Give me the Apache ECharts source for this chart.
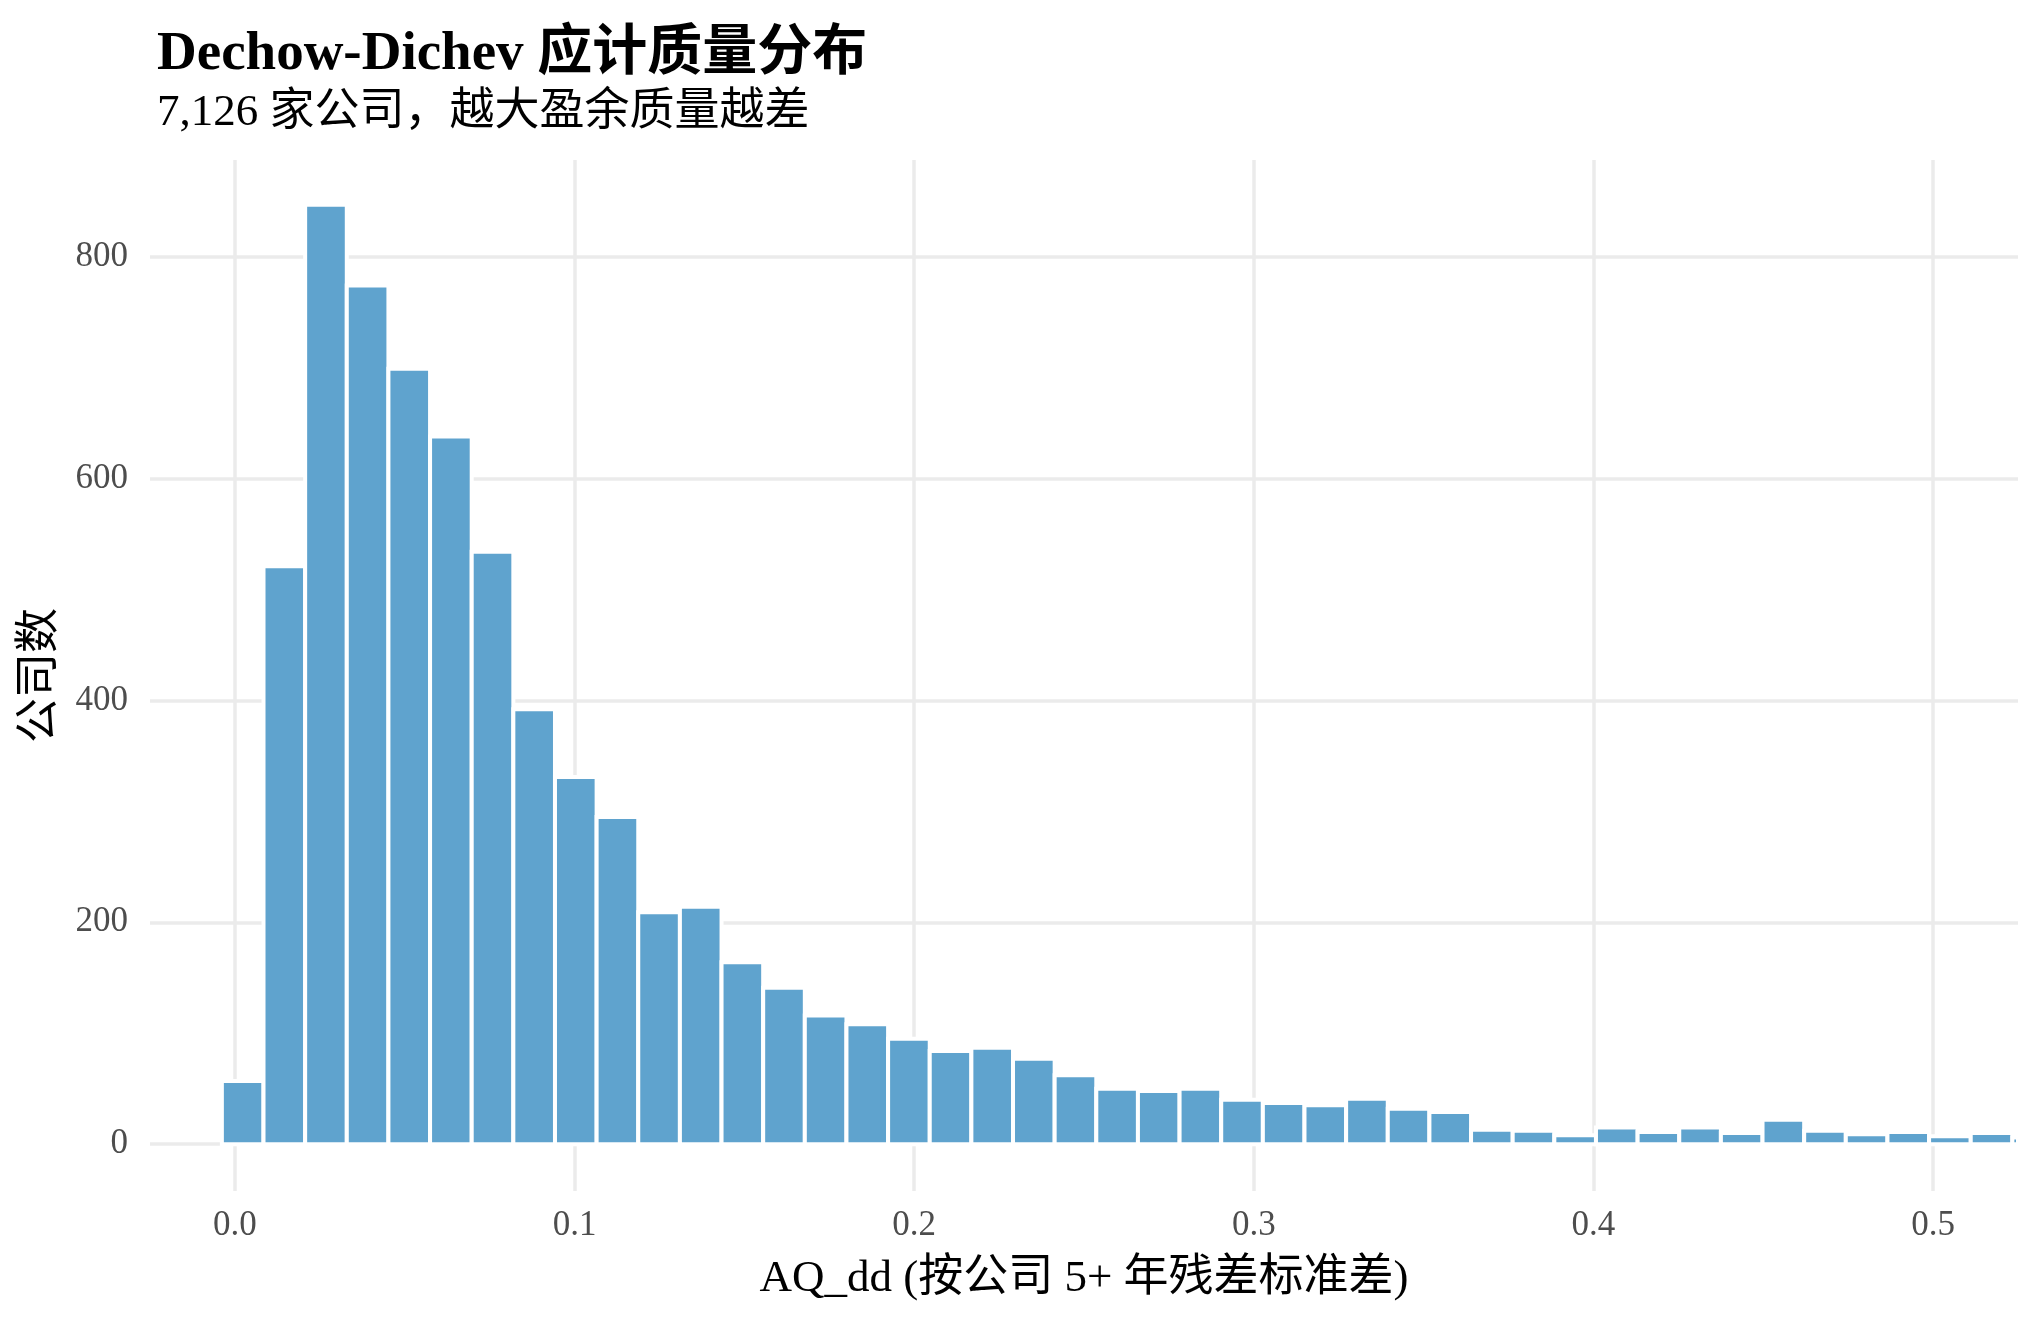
<!DOCTYPE html>
<html>
<head>
<meta charset="utf-8">
<title>Dechow-Dichev 应计质量分布</title>
<script src="https://cdn.jsdelivr.net/npm/echarts@6/dist/echarts.min.js"></script>
<style>
	html, body { margin: 0; padding: 0; background: #ffffff; }
	#chart { width: 2040px; height: 1320px; }
</style>
</head>
<body>
<div id="chart"></div>
<script>
// histogram bins: centre of the first bin and bin width
var binStart = 0.00229;
var binWidth = 0.01226;

// firms per bin, left to right
var counts = [57, 521, 847, 774, 699, 638, 534, 392, 331, 295,
	209, 214, 164, 141, 116, 108, 95, 84, 87, 77,
	62, 50, 48, 50, 40, 37, 35, 41, 32, 29,
	13, 12, 8, 15, 11, 15, 10, 22, 12, 9,
	11, 7, 10, 6];

var xTicks = [0, 0.1, 0.2, 0.3, 0.4, 0.5];
var yTicks = [0, 200, 400, 600, 800];

var serif = '"Liberation Serif", "Noto Sans CJK SC", serif';

function getChart(){
	var chart = echarts.init(document.getElementById('chart'));
	var data = counts.map(function (c, i) {
		return [binStart + i * binWidth, c];
	});
	var option = {
		backgroundColor: '#ffffff',
		animation: false,
		title: [
			{
				text: 'Dechow-Dichev 应计质量分布',
				left: 152,
				top: 22,
				textStyle: {
					color: '#000000',
					fontFamily: serif,
					fontSize: 55,
					fontWeight: 'bold'
				}
			},
			{
				text: '7,126 家公司，越大盈余质量越差',
				left: 152,
				top: 86,
				textStyle: {
					color: '#000000',
					fontFamily: serif,
					fontSize: 45,
					fontWeight: 'normal'
				}
			}
		],
		grid: {
			left: 150,
			right: 22,
			top: 160,
			bottom: 129,
			containLabel: false
		},
		xAxis: {
			type: 'value',
			min: -0.025,
			max: 0.525,
			name: 'AQ_dd (按公司 5+ 年残差标准差)',
			nameLocation: 'middle',
			nameGap: 66,
			nameTextStyle: {
				color: '#000000',
				fontFamily: serif,
				fontSize: 45
			},
			axisLine: { show: false },
			axisTick: { show: false, customValues: xTicks },
			axisLabel: {
				customValues: xTicks,
				margin: 17,
				color: '#4d4d4d',
				fontFamily: serif,
				fontSize: 35,
				formatter: function (v) { return v.toFixed(1); }
			},
			splitLine: {
				show: true,
				lineStyle: { color: '#ebebeb', width: 3.5 }
			}
		},
		yAxis: {
			type: 'value',
			min: -42.25,
			max: 887.25,
			name: '公司数',
			nameLocation: 'middle',
			nameGap: 86,
			nameRotate: 90,
			nameTextStyle: {
				color: '#000000',
				fontFamily: serif,
				fontSize: 45
			},
			axisLine: { show: false },
			axisTick: { show: false, customValues: yTicks },
			axisLabel: {
				customValues: yTicks,
				margin: 22,
				color: '#4d4d4d',
				fontFamily: serif,
				fontSize: 35
			},
			splitLine: {
				show: true,
				lineStyle: { color: '#ebebeb', width: 3.5 }
			}
		},
		series: [
			{
				name: 'AQ_dd',
				type: 'custom',
				data: data,
				renderItem: function (params, api) {
					var x = api.value(0);
					var y = api.value(1);
					var p0 = api.coord([x - binWidth / 2, y]);
					var p1 = api.coord([x + binWidth / 2, 0]);
					var rect = echarts.graphic.clipRectByRect({
						x: p0[0],
						y: p0[1],
						width: p1[0] - p0[0],
						height: p1[1] - p0[1]
					}, {
						x: params.coordSys.x,
						y: params.coordSys.y,
						width: params.coordSys.width,
						height: params.coordSys.height
					});
					return rect && {
						type: 'rect',
						shape: rect,
						style: {
							fill: '#5fa3ce',
							stroke: '#ffffff',
							lineWidth: 4
						}
					};
				}
			}
		]
	};
	chart.setOption(option);
}

getChart();
</script>
</body>
</html>
